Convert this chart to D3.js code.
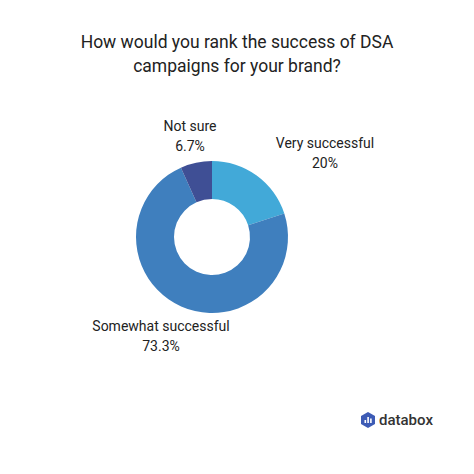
<!DOCTYPE html>
<html><head><meta charset="utf-8">
<script src="https://cdn.jsdelivr.net/npm/d3@7"></script>
<style>body{margin:0;background:#fff}</style>
</head><body><div id="chart"></div>
<script>
var categories = ['Very successful', 'Somewhat successful', 'Not sure'];
var values = [20, 73.3, 6.7];
var valueLabels = ['20%', '73.3%', '6.7%'];
var colors = ['#42a9d8', '#3f7fbe', '#3f4f95'];

var svg = d3.select('#chart').append('svg').attr('width', 474).attr('height', 474);
var font = 'Roboto, sans-serif';

svg.append('text').attr('x', 237).attr('y', 48).attr('text-anchor', 'middle')
  .attr('font-family', font).attr('font-size', 17.5).attr('fill', '#222')
  .text('How would you rank the success of DSA');
svg.append('text').attr('x', 237).attr('y', 72).attr('text-anchor', 'middle')
  .attr('font-family', font).attr('font-size', 17.5).attr('fill', '#222')
  .text('campaigns for your brand?');

var cx = 212, cy = 237;
var pie = d3.pie().sort(null)(values);
var arc = d3.arc().innerRadius(38).outerRadius(76);
var g = svg.append('g').attr('transform', 'translate(' + cx + ',' + cy + ')');
g.selectAll('path').data(pie).enter().append('path')
  .attr('d', arc).attr('fill', function (d, i) { return colors[i]; });

var labelPos = [[325, 148], [161, 331], [190, 131]];
categories.forEach(function (c, i) {
  var t = svg.append('text').attr('text-anchor', 'middle').attr('font-family', font)
    .attr('font-size', 14).attr('fill', '#222');
  t.append('tspan').attr('x', labelPos[i][0]).attr('y', labelPos[i][1]).text(c);
  t.append('tspan').attr('x', labelPos[i][0]).attr('y', labelPos[i][1] + 20).text(valueLabels[i]);
});

// databox logo
var logo = svg.append('g').attr('transform', 'translate(368,420)');
logo.append('polygon').attr('points', '0,-8 7,-4 7,4 0,8 -7,4 -7,-4').attr('fill', '#3d5bb5');
[[-3.5, 0, 3], [-0.7, -3, 6], [2.1, -1.5, 4.5]].forEach(function (b) {
  logo.append('rect').attr('x', b[0]).attr('y', b[1]).attr('width', 1.6).attr('height', b[2]).attr('fill', '#fff');
});
svg.append('text').attr('x', 379).attr('y', 425).attr('font-family', font).attr('font-size', 15)
  .attr('font-weight', 500).attr('fill', '#333').text('databox');
</script></body></html>
